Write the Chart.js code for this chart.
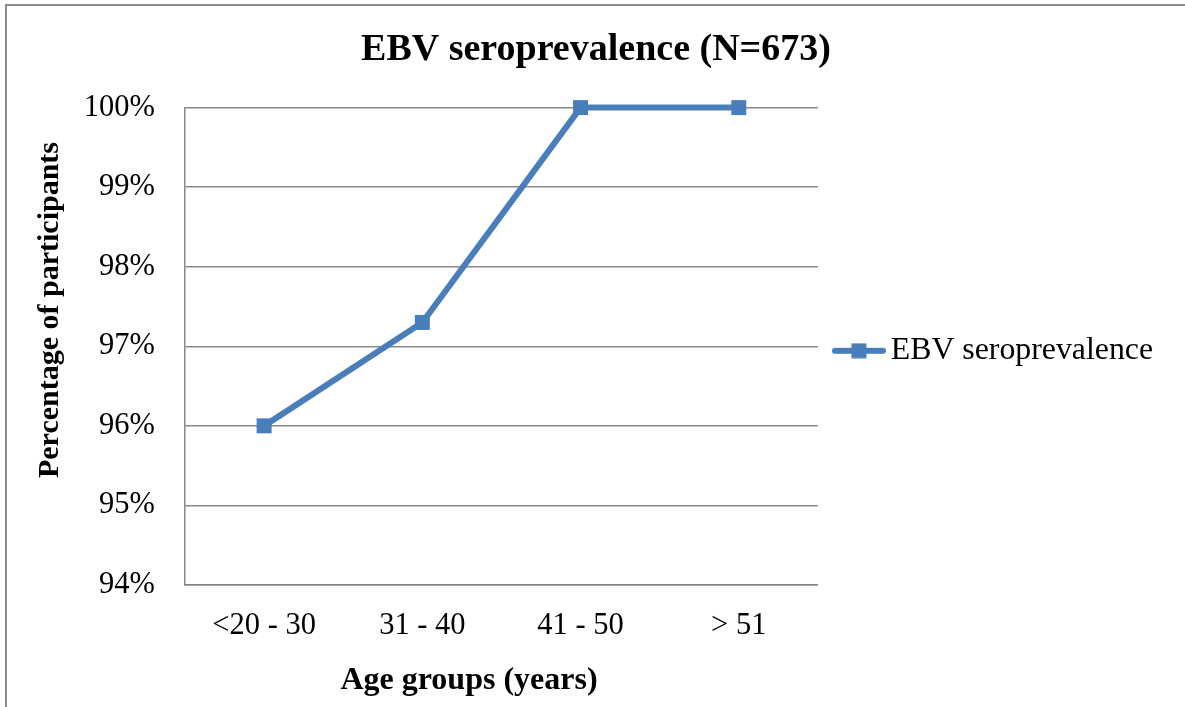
<!DOCTYPE html>
<html>
<head>
<meta charset="utf-8">
<script src="https://cdn.jsdelivr.net/npm/chart.js@4/dist/chart.umd.min.js"></script>
<style>
  body { margin: 0; background: #fff; }
  #frame { position: absolute; left: 5px; top: 4px; width: 1200px; height: 720px;
           border-left: 2px solid #8c8c8c; border-top: 2px solid #8c8c8c; }
  #chart { position: absolute; left: 0; top: 0; z-index: 1; }
</style>
</head>
<body>
<div id="frame"></div>
<canvas id="chart" width="1185" height="707"></canvas>
<script>
const ageGroups = ['<20 - 30', '31 - 40', '41 - 50', '> 51'];
const seroprevalence = [96.0, 97.3, 100.0, 100.0];
const yTicks = [94, 95, 96, 97, 98, 99, 100];
const xTitle = 'Age groups (years)';
const yTitle = 'Percentage of participants';

const lineColor = '#4a7ebb';
const gridColor = '#888888';
const serif = '"Liberation Serif", "Times New Roman", serif';

Chart.defaults.font.family = serif;
Chart.defaults.color = '#000';

// legend marker: line with a square in the middle
const legendMark = document.createElement('canvas');
legendMark.width = 54;
legendMark.height = 16;
(() => {
    const c = legendMark.getContext('2d');
    c.strokeStyle = lineColor;
    c.lineWidth = 6;
    c.lineCap = 'round';
    c.beginPath();
    c.moveTo(3, 8);
    c.lineTo(51, 8);
    c.stroke();
    c.fillStyle = lineColor;
    c.fillRect(27 - 7.5, 0.5, 15, 15);
})();

// Excel puts the axis titles a bit off the plot centre, so draw them by hand
const axisTitles = {
    id: 'axisTitles',
    afterDraw(chart) {
        const ctx = chart.ctx;
        ctx.save();
        ctx.fillStyle = '#000';
        ctx.textAlign = 'center';
        ctx.textBaseline = 'middle';
        ctx.font = 'bold 32px ' + serif;
        ctx.fillText(xTitle, 469, 681);
        ctx.font = 'bold 30px ' + serif;
        ctx.translate(50, 310);
        ctx.rotate(-Math.PI / 2);
        ctx.fillText(yTitle, 0, 0);
        ctx.restore();
    }
};

new Chart(document.getElementById('chart'), {
    type: 'line',
    data: {
        labels: ageGroups,
        datasets: [{
            label: 'EBV seroprevalence',
            data: seroprevalence,
            borderColor: lineColor,
            backgroundColor: lineColor,
            borderWidth: 6,
            tension: 0,
            pointStyle: 'rect',
            pointRadius: 10.6,
            pointHoverRadius: 10.6,
            pointBorderWidth: 0,
            pointBackgroundColor: lineColor,
            clip: false
        }]
    },
    options: {
        responsive: false,
        animation: false,
        layout: { padding: { left: 29, right: 22, top: 0, bottom: 0 } },
        plugins: {
            title: {
                display: true,
                text: 'EBV seroprevalence (N=673)',
                font: { size: 38, weight: 'bold' },
                color: '#000',
                padding: { top: 27, bottom: 35 }
            },
            legend: {
                position: 'right',
                fullSize: false,
                maxWidth: 420,
                // empty title only nudges the item a few px down
                title: { display: true, text: '', font: { size: 5 }, padding: { top: 1.5, bottom: 1.5 } },
                labels: {
                    usePointStyle: true,
                    pointStyle: legendMark,
                    pointStyleWidth: 32,
                    padding: 25,
                    color: '#000',
                    font: { size: 31.8 }
                }
            },
            tooltip: { enabled: false }
        },
        scales: {
            x: {
                offset: true,
                grid: { display: false },
                border: { display: true, color: gridColor, width: 1.5 },
                ticks: { padding: 15, font: { size: 30.5 } },
                afterFit: (scale) => { scale.height = 707 - 585; }
            },
            y: {
                min: yTicks[0],
                max: yTicks[yTicks.length - 1],
                grid: { color: gridColor, lineWidth: 1.5, drawTicks: false },
                border: { display: true, color: gridColor, width: 1.5 },
                afterBuildTicks: (scale) => { scale.ticks = yTicks.map(v => ({ value: v })); },
                ticks: {
                    padding: 30,
                    font: { size: 30.5 },
                    callback: (value) => value + '%'
                },
                afterFit: (scale) => { scale.width = 185 - 29; }
            }
        }
    },
    plugins: [axisTitles]
});
</script>
</body>
</html>
